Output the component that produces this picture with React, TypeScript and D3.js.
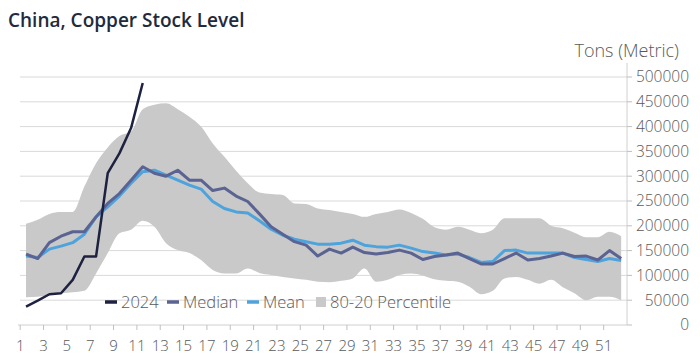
import React, { useEffect, useRef } from "react";
import * as d3 from "d3";

// weekly copper stock, tons (metric)
const weeks = d3.range(1, 53);

const stock2024 = [37000, 49000, 62000, 64000, 91000, 138000, 138000, 306000, 346000, 397000, 488000];

const median = [
  143000, 134000, 166000, 179000, 188000, 188000, 218000, 245000, 265000, 292000,
  319000, 306000, 300000, 312000, 292000, 292000, 271000, 276000, 260000, 249000,
  224000, 198000, 183000, 168000, 161000, 139000, 153000, 145000, 157000, 146000,
  143000, 146000, 151000, 145000, 132000, 138000, 141000, 145000, 134000, 123000,
  123000, 134000, 145000, 131000, 134000, 139000, 145000, 138000, 139000, 131000,
  150000, 134000,
];

const mean = [
  139000, 136000, 153000, 159000, 166000, 183000, 218000, 238000, 260000, 286000,
  309000, 312000, 302000, 292000, 282000, 274000, 249000, 235000, 228000, 226000,
  210000, 193000, 181000, 173000, 168000, 163000, 163000, 165000, 171000, 161000,
  158000, 157000, 161000, 155000, 148000, 145000, 141000, 143000, 136000, 126000,
  128000, 150000, 151000, 145000, 145000, 145000, 145000, 136000, 132000, 128000,
  134000, 130000,
];

const upper80 = [
  204000, 212000, 224000, 228000, 228000, 279000, 326000, 358000, 381000, 390000,
  435000, 444000, 447000, 435000, 420000, 400000, 366000, 339000, 311000, 286000,
  267000, 264000, 262000, 245000, 244000, 235000, 232000, 228000, 224000, 218000,
  224000, 228000, 233000, 226000, 214000, 197000, 192000, 198000, 192000, 185000,
  192000, 215000, 215000, 215000, 215000, 200000, 195000, 186000, 177000, 177000,
  188000, 179000,
];

const lower20 = [
  56000, 57000, 60000, 64000, 66000, 69000, 104000, 145000, 185000, 192000,
  210000, 198000, 165000, 151000, 145000, 131000, 111000, 104000, 104000, 114000,
  105000, 101000, 97000, 94000, 91000, 87000, 86000, 89000, 94000, 114000,
  87000, 91000, 101000, 104000, 100000, 92000, 89000, 87000, 77000, 62000,
  69000, 94000, 97000, 91000, 83000, 91000, 76000, 64000, 50000, 57000,
  57000, 50000,
];

const yTicks = d3.range(0, 500001, 50000);
const xTickWeeks = weeks.filter((w) => w % 2 === 1);

const legendItems = [
  { label: "2024", color: "#1e2240", kind: "line" },
  { label: "Median", color: "#5a6391", kind: "line" },
  { label: "Mean", color: "#4ea3dd", kind: "line" },
  { label: "80-20 Percentile", color: "#c9c9c9", kind: "box" },
];

const font = "'Open Sans', 'Segoe UI', sans-serif";

const StockChart = () => {
  const ref = useRef<SVGSVGElement>(null);

  useEffect(() => {
    const svg = d3.select(ref.current);
    svg.selectAll("*").remove();

    const width = 700;
    const height = 363;
    svg.attr("width", width).attr("height", height);

    const x = d3.scaleBand<number>().domain(weeks).range([20.2, 627]).paddingInner(0).paddingOuter(0);
    const cx = (w: number) => (x(w) as number) + x.bandwidth() / 2;
    const y = d3.scaleLinear().domain([0, 500000]).range([325, 77]);

    // title
    svg
      .append("text")
      .attr("x", 8)
      .attr("y", 27)
      .attr("font-family", font)
      .attr("font-weight", 600)
      .attr("font-size", 19)
      .attr("fill", "#222a3b")
      .text("China, Copper Stock Level");

    svg
      .append("text")
      .attr("x", 679)
      .attr("y", 57)
      .attr("text-anchor", "end")
      .attr("font-family", font)
      .attr("font-weight", 300)
      .attr("font-size", 18)
      .attr("fill", "#595959")
      .text("Tons (Metric)");

    // gridlines
    svg
      .append("g")
      .selectAll("line")
      .data(yTicks.filter((t) => t > 0))
      .enter()
      .append("line")
      .attr("x1", 20)
      .attr("x2", 627)
      .attr("y1", (d) => y(d))
      .attr("y2", (d) => y(d))
      .attr("stroke", "#d9d9d9")
      .attr("stroke-width", 1);

    // 80-20 band
    const band = d3
      .area<number>()
      .x((w) => cx(w))
      .y0((w, i) => y(lower20[i]))
      .y1((w, i) => y(upper80[i]))
      .curve(d3.curveMonotoneX);

    svg.append("path").datum(weeks).attr("d", band).attr("fill", "#c9c9c9");

    const line = (vals: number[]) =>
      d3
        .line<number>()
        .x((v, i) => cx(weeks[i]))
        .y((v) => y(v))(vals);

    svg
      .append("path")
      .attr("d", line(mean))
      .attr("fill", "none")
      .attr("stroke", "#4ea3dd")
      .attr("stroke-width", 3)
      .attr("stroke-linejoin", "round");

    svg
      .append("path")
      .attr("d", line(median))
      .attr("fill", "none")
      .attr("stroke", "#5a6391")
      .attr("stroke-width", 3)
      .attr("stroke-linejoin", "round");

    svg
      .append("path")
      .attr("d", line(stock2024))
      .attr("fill", "none")
      .attr("stroke", "#1e2240")
      .attr("stroke-width", 2.5)
      .attr("stroke-linejoin", "round");

    // x axis
    const xAxis = svg.append("g");
    xAxis
      .append("line")
      .attr("x1", 18)
      .attr("x2", 627)
      .attr("y1", 325)
      .attr("y2", 325)
      .attr("stroke", "#d0d0d0");
    const xt = xAxis
      .selectAll("g")
      .data(xTickWeeks)
      .enter()
      .append("g")
      .attr("transform", (w) => `translate(${x(w)},325)`);
    xt.append("line").attr("y1", 0).attr("y2", 5).attr("stroke", "#bfbfbf");
    xt.append("text")
      .attr("y", 26)
      .attr("text-anchor", "middle")
      .attr("font-family", font)
      .attr("font-weight", 300)
      .attr("font-size", 15)
      .attr("fill", "#595959")
      .text((w) => w);

    // y axis on the right
    const yAxis = svg.append("g");
    yAxis
      .append("line")
      .attr("x1", 627)
      .attr("x2", 627)
      .attr("y1", 63)
      .attr("y2", 325)
      .attr("stroke", "#d0d0d0");
    const yt = yAxis
      .selectAll("g")
      .data(yTicks)
      .enter()
      .append("g")
      .attr("transform", (d) => `translate(627,${y(d)})`);
    yt.append("line").attr("x1", 0).attr("x2", 5).attr("stroke", "#bfbfbf");
    yt.append("text")
      .attr("x", 62)
      .attr("dy", "0.35em")
      .attr("text-anchor", "end")
      .attr("font-family", font)
      .attr("font-weight", 300)
      .attr("font-size", 15.5)
      .attr("fill", "#595959")
      .text((d) => d);

    // legend
    const legendX = [105, 167, 247, 314];
    const lg = svg
      .append("g")
      .selectAll("g")
      .data(legendItems)
      .enter()
      .append("g")
      .attr("transform", (d, i) => `translate(${legendX[i]},302)`);
    lg.filter((d) => d.kind === "line")
      .append("line")
      .attr("x1", 0)
      .attr("x2", 12)
      .attr("stroke", (d) => d.color)
      .attr("stroke-width", 3.5);
    lg.filter((d) => d.kind === "box")
      .append("rect")
      .attr("x", 2)
      .attr("y", -5)
      .attr("width", 10)
      .attr("height", 10)
      .attr("fill", (d) => d.color);
    lg.append("text")
      .attr("x", 16)
      .attr("dy", "0.35em")
      .attr("font-family", font)
      .attr("font-weight", 300)
      .attr("font-size", 16.5)
      .attr("fill", "#595959")
      .text((d) => d.label);
  }, []);

  return <svg ref={ref} style={{ display: "block" }} />;
};

export default function App() {
  return (
    <div style={{ margin: -8 }}>
      <StockChart />
    </div>
  );
}
